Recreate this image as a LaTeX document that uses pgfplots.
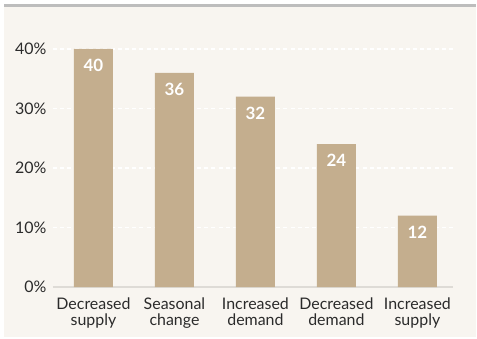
\documentclass[border=0pt]{standalone}
\usepackage{fontspec}
\setmainfont{Lato}
\usepackage{pgfplots}
\pgfplotsset{compat=1.18}

\definecolor{panelbg}{HTML}{F8F5F0}
\definecolor{barfill}{HTML}{C4AE8E}
\definecolor{topline}{HTML}{BDBDBD}
\definecolor{baseline}{HTML}{DEDBD6}
\definecolor{labeltext}{HTML}{2B2B2B}

\begin{document}
\begin{tikzpicture}[x=1bp,y=1bp]
  % page and panel
  \fill[white] (-53,-51) rectangle (424,287);
  \fill[panelbg] (-49,-50) rectangle (423,283);
  \fill[topline] (-49,280) rectangle (423,283);
  \begin{axis}[
    at={(0,0)}, anchor=south west,
    scale only axis,
    width=400bp, height=267.75bp,
    xmin=-0.5, xmax=4.44,
    ymin=0, ymax=45,
    axis line style={draw=none},
    major tick length=0pt,
    xtick={0,1,2,3,4},
    xticklabels={{Decreased\\supply},{Seasonal\\change},{Increased\\demand},{Decreased\\demand},{Increased\\supply}},
    xticklabel style={align=center, font=\fontsize{16}{16}\selectfont, text=labeltext, yshift=-7bp},
    ytick={10,20,30,40},
    yticklabel={\pgfmathprintnumber{\tick}\%},
    yticklabel style={font=\fontsize{16}{17}\selectfont, text=labeltext, xshift=-3bp},
    extra y ticks={0},
    extra y tick style={grid style={solid, draw=baseline, line width=1.5bp}},
    /pgf/number format/assume math mode=true,
    ymajorgrids,
    grid style={white, line width=1.3bp, dash pattern=on 4bp off 3.2bp},
    clip=false,
  ]
    \addplot[ybar, bar width=39bp, fill=barfill, draw=none,
      nodes near coords={\pgfmathprintnumber{\pgfplotspointmeta}},
      every node near coord/.style={anchor=north, inner sep=0pt, yshift=-10bp,
        text=white, font=\bfseries\fontsize{17}{18}\selectfont},
    ] coordinates {(0,40) (1,36) (2,32) (3,24) (4,12)};
  \end{axis}
\end{tikzpicture}
\end{document}
